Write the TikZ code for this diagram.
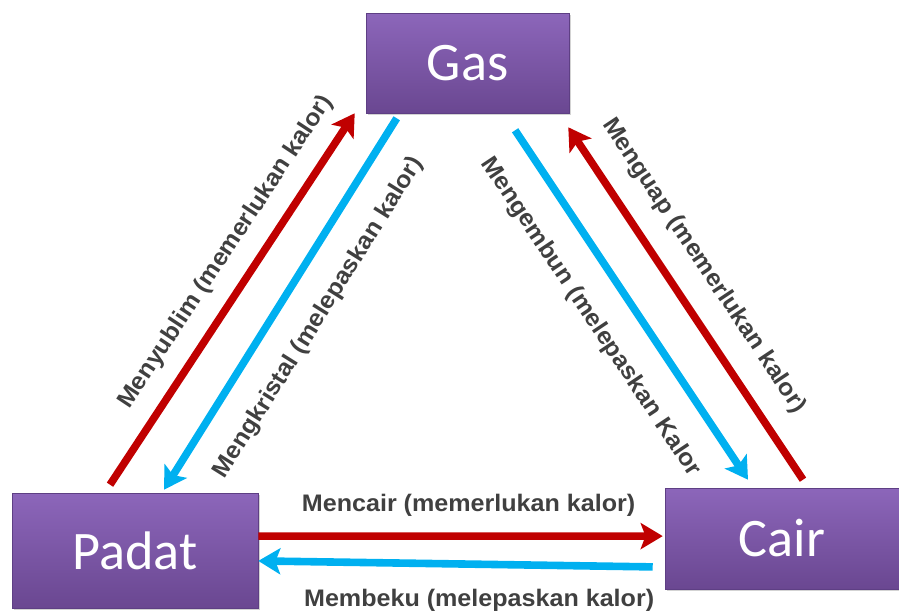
\documentclass[tikz,border=0pt]{standalone}
\usepackage{fontspec}
\usetikzlibrary{arrows.meta,shadows}
\newfontfamily\lblfont[FakeStretch=1.05]{Liberation Sans}
\newfontfamily\boxfont{Carlito}
\definecolor{boxtop}{HTML}{8C66BA}
\definecolor{boxbot}{HTML}{6A4791}
\definecolor{boxline}{HTML}{5E3F84}
\definecolor{hotred}{HTML}{C00000}
\definecolor{coldblue}{HTML}{00B0F0}
\definecolor{lbltext}{HTML}{404040}
\begin{document}
\begin{tikzpicture}[
    state/.style={draw=boxline, thin, top color=boxtop, bottom color=boxbot, inner sep=0pt,
        text=white, font=\boxfont\fontsize{38.6}{40}\selectfont,
        drop shadow={opacity=0.35, shadow xshift=1.5pt, shadow yshift=-1.5pt}},
    hot/.style={draw=hotred, line width=0.19cm, -{Stealth[length=5.5mm, width=6.5mm, inset=1.2mm]}},
    cold/.style={draw=coldblue, line width=0.19cm, -{Stealth[length=5.5mm, width=6.5mm, inset=1.2mm]}},
    lbl/.style={text=lbltext, font=\lblfont\bfseries\fontsize{17}{19}\selectfont}
    ]
    \useasboundingbox (0,0) rectangle (22.475,-15.325);
    \node[state, minimum width=5.075cm, minimum height=2.5cm] (gas) at (11.6875,-1.575) {Gas};
    \node[state, minimum width=6.15cm, minimum height=2.875cm] (padat) at (3.375,-13.7625) {Padat};
    \node[state, minimum width=5.85cm, minimum height=2.525cm] (cair) at (19.55,-13.4625) {Cair};
    \draw[hot] ([xshift=-0.625cm,yshift=0.2cm]padat.north) -- node[lbl, sloped, pos=0.58, yshift=0.78cm] {Menyublim (memerlukan kalor)} ([xshift=-0.275cm]gas.south west);
    \draw[cold] ([xshift=0.775cm,yshift=-0.125cm]gas.south west) -- node[lbl, sloped, pos=0.48, yshift=-1.0cm] {Mengkristal (melepaskan kalor)} ([xshift=0.725cm,yshift=0.075cm]padat.north);
    \draw[cold] ([xshift=1.19cm,yshift=-0.425cm]gas.south) -- node[lbl, sloped, pos=0.47, yshift=-1.02cm] {Mengembun (melepaskan Kalor} ([xshift=-0.85cm,yshift=0.2cm]cair.north);
    \draw[hot] ([xshift=0.525cm,yshift=0.2cm]cair.north) -- node[lbl, sloped, pos=0.55, yshift=0.9cm] {Menguap (memerlukan kalor)} ([xshift=-0.025cm,yshift=-0.35cm]gas.south east);
    \draw[hot] ([yshift=0.36cm]padat.east) -- node[lbl, pos=0.52, yshift=0.78cm] {Mencair (memerlukan kalor)} ([xshift=-0.05cm,yshift=0.06cm]cair.west);
    \draw[cold] ([xshift=-0.3cm,yshift=-0.71cm]cair.west) -- node[lbl, pos=0.44, yshift=-0.9cm] {Membeku (melepaskan kalor)} ([yshift=-0.26cm]padat.east);
\end{tikzpicture}
\end{document}
